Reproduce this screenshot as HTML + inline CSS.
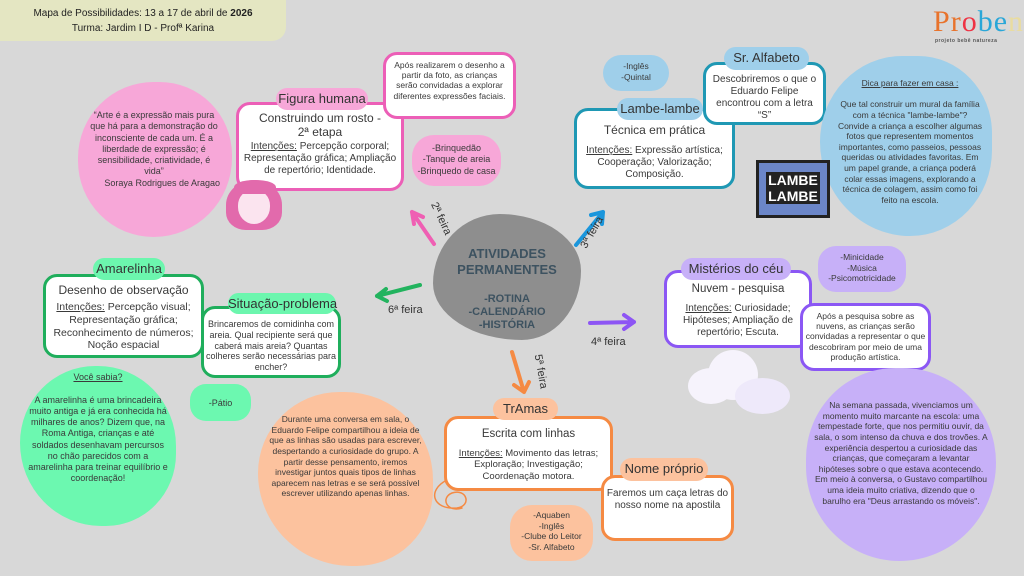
<!DOCTYPE html>
<html><head><meta charset="utf-8"><style>
*{margin:0;padding:0;box-sizing:border-box}
body{width:1024px;height:576px;background:#d8d8d8;position:relative;overflow:hidden;font-family:"Liberation Sans",sans-serif;color:#3a3a3a}
.a{position:absolute}
.box{position:absolute;background:#fff;border-radius:14px;border:3px solid;text-align:center;line-height:1.2;overflow:hidden}
.tab{position:absolute;border-radius:12px;text-align:center;font-size:13px;line-height:22px;color:#333;white-space:nowrap;z-index:2}
.blob{position:absolute;text-align:center;line-height:1.25}
u{text-decoration:underline}
</style></head><body>
<div class="a" style="left:0;top:0;width:286px;height:41px;background:#e4e6c2;border-bottom-right-radius:14px;text-align:center;font-size:10px;line-height:15px;padding-top:6px;color:#222">Mapa de Possibilidades: 13 a 17 de abril de <b>2026</b><br>Turma: Jardim I D - Profª Karina</div>
<div class="a" style="left:933px;top:6px;font-size:30px;font-family:'Liberation Serif',serif;letter-spacing:1px;line-height:32px"><span style="color:#e8732c">P</span><span style="color:#e8732c">r</span><span style="color:#e34">o</span><span style="color:#2aa7d8">b</span><span style="color:#2aa7d8">e</span><span style="color:#e9dca0">n</span></div>
<div class="a" style="left:935px;top:38px;font-size:5px;color:#555;font-weight:bold;letter-spacing:.5px">projeto bebê natureza</div>

<!-- pink -->
<div class="blob" style="left:78px;top:82px;width:154px;height:155px;background:#f7a7d8;border-radius:50% 48% 52% 50%;font-size:9px;padding:28px 12px 0 10px">“Arte é a expressão mais pura que há para a demonstração do inconsciente de cada um. É a liberdade de expressão; é sensibilidade, criatividade, é vida”<div style="text-align:right">Soraya Rodrigues de Aragao</div></div>
<div class="box" style="left:236px;top:102px;width:168px;height:89px;border-color:#ec5fb7;font-size:10px;padding-top:6px"><div style="font-size:12px;line-height:14px;margin-bottom:2px">Construindo um rosto -<br>2ª etapa</div><u>Intenções:</u> Percepção corporal; Representação gráfica; Ampliação de repertório; Identidade.</div>
<div class="tab" style="left:276px;top:88px;width:92px;height:22px;background:#f7a7d8">Figura humana</div>
<div class="box" style="left:383px;top:52px;width:133px;height:67px;border-color:#ec5fb7;font-size:8.5px;padding:5px 4px 0">Após realizarem o desenho a partir da foto, as crianças serão convidadas a explorar diferentes expressões faciais.</div>
<div class="blob" style="left:412px;top:135px;width:89px;height:51px;background:#f7a7d8;border-radius:22px;font-size:9px;padding-top:8px">-Brinquedão<br>-Tanque de areia<br>-Brinquedo de casa</div>
<div class="a" style="left:226px;top:180px;width:56px;height:50px;background:#e26aac;border-radius:50% 50% 35% 35%"></div>
<div class="a" style="left:238px;top:190px;width:32px;height:34px;background:#fbe4ef;border-radius:45% 45% 50% 50%"></div>
<div class="a" style="left:234px;top:180px;width:42px;height:14px;background:#e26aac;border-radius:50% 50% 20% 20%"></div>

<!-- center -->
<div class="a" style="left:433px;top:214px;width:148px;height:126px;background:#8e8e8e;border-radius:45% 55% 40% 60%/55% 45% 55% 45%"></div>
<div class="a" style="left:433px;top:246px;width:148px;text-align:center;font-weight:bold;color:#3d5260;font-size:13px;line-height:16px">ATIVIDADES<br>PERMANENTES</div>
<div class="a" style="left:433px;top:293px;width:148px;text-align:center;font-weight:bold;color:#3d5260;font-size:11px;line-height:13px">-ROTINA<br>-CALENDÁRIO<br>-HISTÓRIA</div>

<svg class="a" style="left:0;top:0" width="1024" height="576">
<g stroke-width="4" fill="none" stroke-linecap="round">
<path d="M434 244 L412 212 M412 212 l2 12 M412 212 l11 5" stroke="#ef5fb3"/>
<path d="M576 245 L603 212 M603 212 l-12 3 M603 212 l-1 12" stroke="#1a96dc"/>
<path d="M590 323 L634 322 M634 322 l-10 -7 M634 322 l-10 7" stroke="#8d55f4"/>
<path d="M512 352 L524 392 M524 392 l-10 -7 M524 392 l5 -10" stroke="#f58a43"/>
<path d="M420 285 L377 296 M377 296 l9 -7 M377 296 l10 5" stroke="#22b35e"/>
<path d="M447 480 c-20 10 -15 30 10 28 c15 -2 10 -20 -5 -15 c-12 5 -5 20 10 15" stroke="#f58a43" stroke-width="1.5"/>
</g>
<text x="424" y="205" font-size="11" fill="#333" transform="rotate(65 428 210)">2ª feira</text>
<text x="582" y="248" font-size="11" fill="#333" transform="rotate(-60 585 245)">3ª feira</text>
<text x="591" y="345" font-size="11" fill="#333">4ª feira</text>
<text x="533" y="357" font-size="11" fill="#333" transform="rotate(80 535 357)">5ª feira</text>
<text x="388" y="313" font-size="11" fill="#333">6ª feira</text>
</svg>

<!-- blue -->
<div class="blob" style="left:603px;top:55px;width:66px;height:36px;background:#9fcfea;border-radius:18px;font-size:8.5px;padding-top:6px">-Inglês<br>-Quintal</div>
<div class="box" style="left:574px;top:108px;width:161px;height:81px;border-color:#1f98b4;font-size:10px;padding-top:12px"><div style="font-size:12px;margin-bottom:8px">Técnica em prática</div><u>Intenções:</u> Expressão artística; Cooperação; Valorização; Composição.</div>
<div class="tab" style="left:617px;top:98px;width:86px;height:22px;background:#9fcfea">Lambe-lambe</div>
<div class="box" style="left:703px;top:62px;width:123px;height:63px;border-color:#1f98b4;font-size:10px;padding:9px 4px 0">Descobriremos o que o Eduardo Felipe encontrou com a letra “S”</div>
<div class="tab" style="left:724px;top:47px;width:85px;height:23px;background:#9fcfea;font-size:13px">Sr. Alfabeto</div>
<div class="blob" style="left:820px;top:56px;width:172px;height:180px;background:#9fcfea;border-radius:50% 45% 50% 55%;font-size:8.5px;padding:22px 8px 0 16px"><u>Dica para fazer em casa :</u><br><br>Que tal construir um mural da família com a técnica "lambe-lambe"? Convide a criança a escolher algumas fotos que representem momentos importantes, como passeios, pessoas queridas ou atividades favoritas. Em um papel grande, a criança poderá colar essas imagens, explorando a técnica de colagem, assim como foi feito na escola.</div>
<div class="a" style="left:756px;top:160px;width:74px;height:58px;background:#6b86c8;border:3px solid #222;text-align:center;font-weight:bold;font-size:14px;line-height:16px;color:#fff;padding-top:9px"><span style="background:#222;padding:0 2px">LAMBE</span><br><span style="background:#222;padding:0 2px">LAMBE</span></div>

<!-- green -->
<div class="box" style="left:43px;top:274px;width:161px;height:84px;border-color:#1fae5c;font-size:10.5px;padding-top:6px"><div style="font-size:12px;margin-bottom:4px">Desenho de observação</div><u>Intenções:</u> Percepção visual; Representação gráfica; Reconhecimento de números; Noção espacial</div>
<div class="tab" style="left:93px;top:258px;width:72px;height:22px;background:#6cf6ae">Amarelinha</div>
<div class="box" style="left:201px;top:306px;width:140px;height:72px;border-color:#1fae5c;font-size:9px;padding-top:10px">Brincaremos de comidinha com areia. Qual recipiente será que caberá mais areia? Quantas colheres serão necessárias para encher?</div>
<div class="tab" style="left:228px;top:293px;width:108px;height:21px;background:#6cf6ae;line-height:21px">Situação-problema</div>
<div class="blob" style="left:20px;top:366px;width:156px;height:160px;background:#6cf8b0;border-radius:48% 50% 45% 52%;font-size:9px;padding:6px 6px 0"><u>Você sabia?</u><br><br>A amarelinha é uma brincadeira muito antiga e já era conhecida há milhares de anos? Dizem que, na Roma Antiga, crianças e até soldados desenhavam percursos no chão parecidos com a amarelinha para treinar equilíbrio e coordenação!</div>
<div class="blob" style="left:190px;top:384px;width:61px;height:37px;background:#6cf8b0;border-radius:16px;font-size:9px;padding-top:14px">-Pátio</div>

<!-- orange -->
<div class="blob" style="left:258px;top:392px;width:175px;height:174px;background:#fcc29e;border-radius:48% 52% 45% 55%;font-size:8.5px;padding:22px 10px 0">Durante uma conversa em sala, o Eduardo Felipe compartilhou a ideia de que as linhas são usadas para escrever, despertando a curiosidade do grupo. A partir desse pensamento, iremos investigar juntos quais tipos de linhas aparecem nas letras e se será possível escrever utilizando apenas linhas.</div>
<div class="box" style="left:444px;top:416px;width:169px;height:75px;border-color:#f58a43;font-size:9.5px;padding-top:9px"><div style="font-size:11.5px;margin-bottom:6px">Escrita com linhas</div><u>Intenções:</u> Movimento das letras; Exploração; Investigação; Coordenação motora.</div>
<div class="tab" style="left:493px;top:398px;width:65px;height:22px;background:#fcc29e">TrAmas</div>
<div class="box" style="left:601px;top:475px;width:133px;height:66px;border-color:#f58a43;font-size:10px;padding-top:10px">Faremos um caça letras do nosso nome na apostila</div>
<div class="tab" style="left:620px;top:458px;width:88px;height:23px;background:#fcc29e">Nome próprio</div>
<div class="blob" style="left:510px;top:505px;width:83px;height:56px;background:#fcc29e;border-radius:22px;font-size:8.5px;padding-top:5px">-Aquaben<br>-Inglês<br>-Clube do Leitor<br>-Sr. Alfabeto</div>

<!-- purple -->
<div class="box" style="left:664px;top:270px;width:148px;height:78px;border-color:#8b57f4;font-size:10px;padding-top:10px"><div style="font-size:11.5px;margin-bottom:6px">Nuvem - pesquisa</div><u>Intenções:</u> Curiosidade; Hipóteses; Ampliação de repertório; Escuta.</div>
<div class="tab" style="left:681px;top:258px;width:110px;height:22px;background:#c7b0f8">Mistérios do céu</div>
<div class="blob" style="left:818px;top:246px;width:88px;height:46px;background:#c7b0f8;border-radius:18px;font-size:8.5px;padding-top:6px">-Minicidade<br>-Música<br>-Psicomotricidade</div>
<div class="box" style="left:800px;top:303px;width:131px;height:68px;border-color:#8b57f4;font-size:8.5px;padding-top:5px">Após a pesquisa sobre as nuvens, as crianças serão convidadas a representar o que descobriram por meio de uma produção artística.</div>
<div class="a" style="left:688px;top:368px;width:46px;height:36px;background:#f6f3fc;border-radius:50%"></div>
<div class="a" style="left:708px;top:350px;width:50px;height:50px;background:#f6f3fc;border-radius:50%"></div>
<div class="a" style="left:735px;top:378px;width:55px;height:36px;background:#eee9fa;border-radius:50%"></div>
<div class="blob" style="left:806px;top:368px;width:190px;height:193px;background:#c7b0f8;border-radius:48% 50% 52% 50%;font-size:8.5px;padding:32px 8px 0">Na semana passada, vivenciamos um momento muito marcante na escola: uma tempestade forte, que nos permitiu ouvir, da sala, o som intenso da chuva e dos trovões. A experiência despertou a curiosidade das crianças, que começaram a levantar hipóteses sobre o que estava acontecendo. Em meio à conversa, o Gustavo compartilhou uma ideia muito criativa, dizendo que o barulho era "Deus arrastando os móveis".</div>
</body></html>
